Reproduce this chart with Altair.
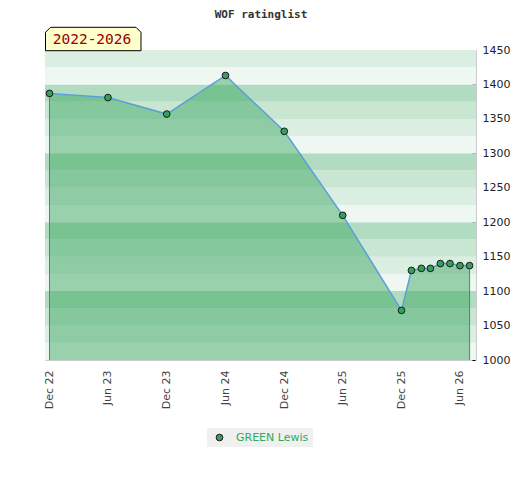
import altair as alt
import pandas as pd

# ---------------- data ----------------
title_text = "WOF ratinglist"
tag_text = "2022-2026"
player = "GREEN Lewis"

dates = [
    "2022-12-01T00:00:00", "2023-06-01T00:00:00", "2023-12-01T00:00:00",
    "2024-06-01T00:00:00", "2024-12-01T00:00:00", "2025-06-01T00:00:00",
    "2025-12-01T00:00:00", "2026-01-01T00:00:00", "2026-02-01T00:00:00",
    "2026-03-01T00:00:00", "2026-04-01T00:00:00", "2026-05-01T00:00:00",
    "2026-06-01T00:00:00", "2026-07-01T00:00:00",
]
ratings = [1387, 1381, 1357, 1413, 1332, 1210, 1072, 1130, 1133, 1133, 1140, 1140, 1137, 1137]

x_tick_months = [(2022, 12), (2023, 6), (2023, 12), (2024, 6), (2024, 12),
                 (2025, 6), (2025, 12), (2026, 6)]
y_ticks_major = list(range(1000, 1451, 50))
y_ticks_minor = list(range(1000, 1451, 10))
band_lows = list(range(1000, 1450, 25))
band_palette = ["#eff7f2", "#dbeee2", "#c9e6d3", "#b2dcc1"]

# ---------------- tables ----------------
df = pd.DataFrame({"date": dates, "rating": ratings, "player": [player] * len(dates)})
edges = df.iloc[[0, len(df) - 1]]
bands = pd.DataFrame({
    "low": band_lows,
    "high": [b + 25 for b in band_lows],
    "color": [band_palette[(b % 100) // 25] for b in band_lows],
})
tag_df = pd.DataFrame({"label": [tag_text]})
title_df = pd.DataFrame({"t": [title_text]})

W, H = 431, 310
FONT = "DejaVu Sans"

xscale = alt.Scale(domain=[alt.DateTime(year=2022, month=11, date=17),
                           alt.DateTime(year=2026, month=7, date=21)])
yscale = alt.Scale(domain=[1000, 1450], zero=False, nice=False)

x_axis = alt.Axis(
    values=[alt.DateTime(year=y, month=m, date=1) for y, m in x_tick_months],
    format="%b %y", labelAngle=270, labelAlign="right", labelBaseline="middle",
    labelPadding=10, ticks=False, tickSize=0, domain=False, grid=False, title=None,
    labelFont=FONT, labelFontSize=11, labelColor="#444444", labelFlush=False,
    labelOverlap=False,
)
left_axis = alt.Axis(
    orient="left", values=y_ticks_major, format="d", ticks=False, tickSize=0,
    domain=False, grid=False, labelPadding=8.5, labelColor="#444444",
    labelFont=FONT, labelFontSize=11, title=None, labelFlush=False,
)
right_axis = alt.Axis(
    orient="right", values=y_ticks_minor, format="d",
    labelExpr="datum.value % 50 === 0 ? datum.label : ''",
    tickSize=3, tickColor="#000000", tickWidth=1, domain=False, grid=False,
    offset=-4, labelPadding=7, labelColor="#222222", labelFont=FONT,
    labelFontSize=11, title=None, labelOverlap=False, labelFlush=False,
)

band_layer = alt.Chart(bands).mark_rect().encode(
    y=alt.Y("low:Q", scale=yscale, axis=left_axis),
    y2="high:Q",
    fill=alt.Fill("color:N", scale=None),
)
area_layer = alt.Chart(df).mark_area(color="#3aa760", opacity=0.475).encode(
    x=alt.X("date:T", scale=xscale, axis=x_axis),
    y=alt.Y("rating:Q", scale=yscale, axis=None),
    y2=alt.datum(1000),
)
edge_layer = alt.Chart(edges).mark_rule(color="#2e9a55", strokeWidth=1).encode(
    x=alt.X("date:T", scale=xscale),
    y=alt.Y("rating:Q", scale=yscale, axis=None),
    y2=alt.datum(1000),
)
line_layer = alt.Chart(df).mark_line(color="#5aa0d8", strokeWidth=1.5).encode(
    x=alt.X("date:T", scale=xscale),
    y=alt.Y("rating:Q", scale=yscale, axis=None),
)
point_layer = alt.Chart(df).mark_point(
    filled=True, size=45, opacity=1, stroke="#1a1a1a", strokeWidth=1
).encode(
    x=alt.X("date:T", scale=xscale),
    y=alt.Y("rating:Q", scale=yscale, axis=None),
    fill=alt.Fill("player:N", scale=alt.Scale(range=["#34a05c"]), legend=alt.Legend(
        title=None, orient="none", legendX=162, legendY=378, fillColor="#f0f0f0",
        padding=4, symbolType="circle", symbolSize=45, symbolStrokeColor="#1a1a1a",
        symbolStrokeWidth=1, symbolOffset=3, labelOffset=11, labelColor="#2eaa5c",
        labelFont=FONT, labelFontSize=11,
    )),
)
main = alt.layer(band_layer, area_layer, edge_layer, line_layer, point_layer)

right_layer = alt.Chart(df).mark_point(opacity=0).encode(
    x=alt.X("date:T", scale=xscale),
    y=alt.Y("rating:Q", scale=yscale, axis=right_axis),
)

tag_path = "M-1,0.245 L-1,-0.14 L-0.895,-0.245 L0.895,-0.245 L1,-0.14 L1,0.245 Z"
tag_box = alt.Chart(tag_df).mark_point(
    shape=tag_path, size=9120, filled=True, fill="#ffffcc", stroke="#000000",
    strokeWidth=1, opacity=1, clip=False,
).encode(x=alt.value(48.25), y=alt.value(-11))
tag_label = alt.Chart(tag_df).mark_text(
    font="DejaVu Sans Mono", fontSize=14.5, color="#990000", align="center",
    baseline="alphabetic",
).encode(x=alt.value(47), y=alt.value(-6), text="label:N")
title_mark = alt.Chart(title_df).mark_text(
    font="DejaVu Sans Mono", fontSize=11, fontWeight="bold", color="#333333",
    align="center", baseline="alphabetic",
).encode(x=alt.value(216), y=alt.value(-32.5), text="t:N")

chart = alt.layer(main, right_layer, tag_box, tag_label, title_mark).resolve_scale(
    y="independent"
).properties(
    width=W, height=H,
    padding={"left": 37, "top": 42, "right": 36, "bottom": 100},
    autosize=alt.AutoSizeParams(type="none"),
).configure_view(stroke="#cccccc", strokeWidth=1)

chart.save("out.html", embed_options={"renderer": "svg", "actions": False})
